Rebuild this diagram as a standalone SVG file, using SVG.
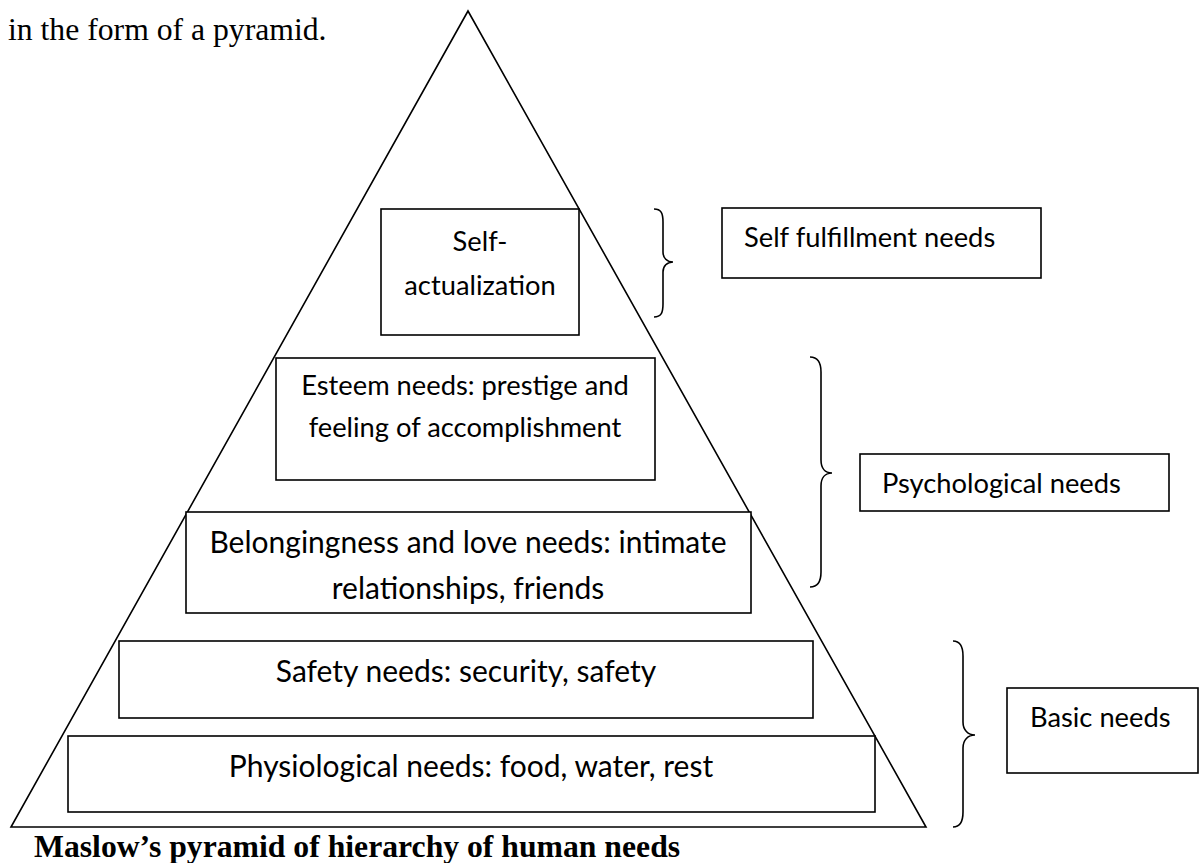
<svg xmlns="http://www.w3.org/2000/svg" width="1201" height="863" viewBox="0 0 1201 863">
  <style>
    .box { fill: #ffffff; stroke: #000000; stroke-width: 1.6; }
    .edge { fill: none; stroke: #000000; stroke-width: 1.6; }
    .brace { fill: none; stroke: #000000; stroke-width: 1.6; }
    .lbl { font-family: Lato, "Open Sans", sans-serif; font-size: 27.3px; fill: #000000; }
    .big { font-size: 30px; }
    .mid { text-anchor: middle; }
    .body { font-family: "Liberation Serif", "Times New Roman", serif; font-size: 31.7px; fill: #000000; }
    .cap { font-family: "Liberation Serif", "Times New Roman", serif; font-size: 31.7px; font-weight: bold; fill: #000000; }
  </style>
  <rect width="1201" height="863" fill="#ffffff"/>

  <text class="body" x="8" y="40">in the form of a pyramid.</text>

  <!-- pyramid outline -->
  <g id="pyramid">
    <polygon class="edge" points="468,11 926,827 11,827"/>
  </g>

  <!-- pyramid levels -->
  <g id="self-actualization">
    <rect class="box" x="381" y="209" width="198" height="126"/>
    <text class="lbl mid" x="480" y="251">Self-</text>
    <text class="lbl mid" x="480" y="295">actualization</text>
  </g>
  <g id="esteem">
    <rect class="box" x="276" y="358" width="379" height="122"/>
    <text class="lbl mid" x="465" y="395">Esteem needs: prestige and</text>
    <text class="lbl mid" x="465" y="437">feeling of accomplishment</text>
  </g>
  <g id="belonging">
    <rect class="box" x="186" y="512" width="565" height="101"/>
    <text class="lbl big mid" x="468" y="553">Belongingness and love needs: intimate</text>
    <text class="lbl big mid" x="468" y="599">relationships, friends</text>
  </g>
  <g id="safety">
    <rect class="box" x="119" y="641" width="694" height="77"/>
    <text class="lbl big mid" x="466" y="682">Safety needs: security, safety</text>
  </g>
  <g id="physiological">
    <rect class="box" x="68" y="736" width="807" height="76"/>
    <text class="lbl big mid" x="471" y="777">Physiological needs: food, water, rest</text>
  </g>

  <!-- grouping braces -->
  <g id="connectors">
    <path class="brace" d="M654,209 C661,209 663,213 663,222 L663,252 C663,258 667,262 673,262 C667,262 663,266 663,272 L663,304 C663,313 661,317 654,317"/>
    <path class="brace" d="M810,357 C818,357 821,362 821,372 L821,460 C821,468 825,473 832,473 C825,473 821,478 821,486 L821,572 C821,582 818,587 810,587"/>
    <path class="brace" d="M953,641 C960,641 963,646 963,656 L963,722 C963,730 968,735 975,735 C968,735 963,740 963,748 L963,812 C963,822 960,827 953,827"/>
  </g>

  <!-- category labels -->
  <g id="self-fulfillment">
    <rect class="box" x="722" y="208" width="319" height="70"/>
    <text class="lbl" x="744" y="247">Self fulfillment needs</text>
  </g>
  <g id="psychological">
    <rect class="box" x="860" y="454" width="309" height="57"/>
    <text class="lbl" x="882" y="493">Psychological needs</text>
  </g>
  <g id="basic">
    <rect class="box" x="1007" y="688" width="191" height="85"/>
    <text class="lbl" x="1030" y="727">Basic needs</text>
  </g>

  <text class="cap" x="34" y="857">Maslow’s pyramid of hierarchy of human needs</text>
</svg>
